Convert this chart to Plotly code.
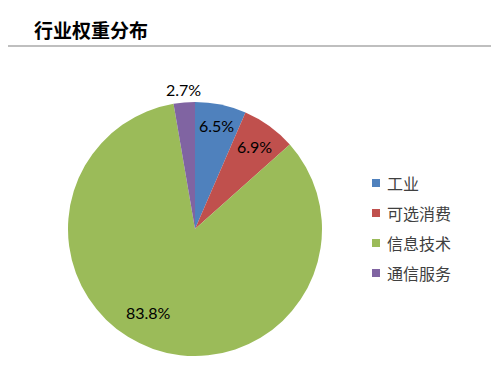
import math
import plotly.graph_objects as go

title = "行业权重分布"
categories = ["工业", "可选消费", "信息技术", "通信服务"]
values = [6.5, 6.9, 83.8, 2.7]
colors = ["#4F81BD", "#C0504D", "#9BBB59", "#8064A2"]

W, H = 500, 384
OFF = 8  # page body margin in the browser


def px_x(x):
    return (x - OFF) / W


def px_y(y):
    return 1 - (y - OFF) / H


cx_px, cy_px, r_px = 195, 229, 127
label_r = [0.83, 0.80, 0.75, 1.10]
label_shift = [0, 0, 10, 0]  # degrees

fig = go.Figure()
fig.add_trace(go.Pie(
    labels=categories, values=values, sort=False, direction="clockwise",
    rotation=0, marker=dict(colors=colors, line=dict(width=0)),
    textinfo="none", hoverinfo="label+percent", showlegend=False,
    domain=dict(x=[px_x(cx_px - r_px), px_x(cx_px + r_px)],
                y=[px_y(cy_px + r_px), px_y(cy_px - r_px)]),
))

# data labels computed from the values
total = sum(values)
cum = 0
for i, v in enumerate(values):
    mid = (cum + v / 2) / total * 360 + label_shift[i]
    cum += v
    a = math.radians(mid)
    lx = cx_px + label_r[i] * r_px * math.sin(a)
    ly = cy_px - label_r[i] * r_px * math.cos(a)
    fig.add_annotation(x=px_x(lx), y=px_y(ly), xref="paper", yref="paper",
                       xanchor="center", yanchor="middle",
                       text=f"{v:.1f}%", showarrow=False,
                       font=dict(family="Lato, Open Sans, sans-serif", size=16, color="#000000"))

# legend (drawn manually to match spacing)
for i, (c, col) in enumerate(zip(categories, colors)):
    yc = 183 + 30 * i
    fig.add_shape(type="rect", xref="paper", yref="paper",
                  x0=px_x(372), x1=px_x(380), y0=px_y(yc + 4), y1=px_y(yc - 4),
                  fillcolor=col, line=dict(width=0))
    fig.add_annotation(x=px_x(385), y=px_y(yc), xref="paper", yref="paper",
                       xanchor="left", yanchor="middle", showarrow=False,
                       text=c, font=dict(family="Noto Sans CJK SC", size=16, color="#404040"))

fig.add_annotation(x=px_x(32), y=px_y(30), xref="paper", yref="paper",
                   xanchor="left", yanchor="middle", showarrow=False,
                   text=f"<b>{title}</b>",
                   font=dict(family="Noto Sans CJK SC", size=19, color="#000000"))
fig.add_shape(type="line", xref="paper", yref="paper",
              x0=px_x(0), x1=px_x(491), y0=px_y(46), y1=px_y(46),
              line=dict(color="#BFBFBF", width=2))

fig.update_layout(
    width=W, height=H, margin=dict(l=0, r=0, t=0, b=0),
    paper_bgcolor="white", plot_bgcolor="white", showlegend=False,
)
fig.write_html("out.html")
